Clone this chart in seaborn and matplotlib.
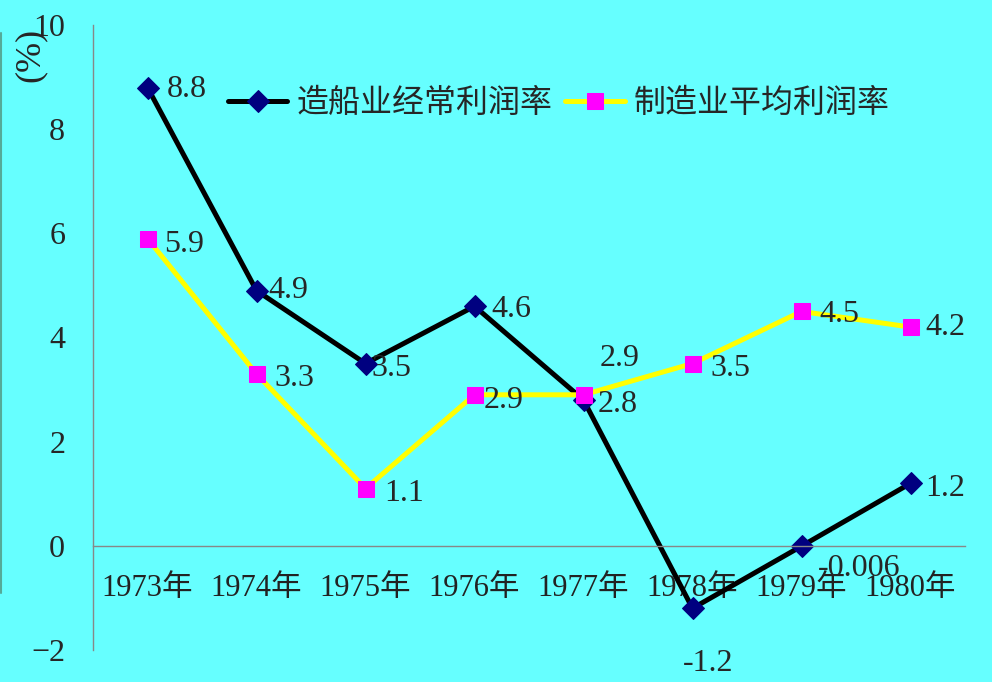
import numpy as np
import pandas as pd
import matplotlib
matplotlib.use("Agg")
import matplotlib.pyplot as plt
import seaborn as sns
from matplotlib.lines import Line2D

years = ["1973年", "1974年", "1975年", "1976年", "1977年", "1978年", "1979年", "1980年"]
ship_name = "造船业经常利润率"
mfg_name = "制造业平均利润率"
ship_rate = [8.8, 4.9, 3.5, 4.6, 2.8, -1.2, -0.006, 1.2]
mfg_rate = [5.9, 3.3, 1.1, 2.9, 2.9, 3.5, 4.5, 4.2]
ship_text = ["8.8", "4.9", "3.5", "4.6", "2.8", "-1.2", "-0.006", "1.2"]
mfg_text = ["5.9", "3.3", "1.1", "2.9", "2.9", "3.5", "4.5", "4.2"]

# label offsets (pixels) from each point
ship_off = [(19, -2), (12, 0), (6, -5), (17, -3), (14, -5), (-10, -55), (16, -22), (15, -5)]
mfg_off = [(17, -6), (18, -5), (19, -5), (9, -6), (16, 36), (18, -5), (18, -3), (15, 0)]

bg = "#66FFFF"
sns.set_style("white")
plt.rcParams["font.family"] = ["Liberation Serif", "Noto Sans CJK SC", "DejaVu Sans"]

df = pd.DataFrame({"pos": np.arange(len(years)), "year": years,
                   "ship": ship_rate, "mfg": mfg_rate})

fig = plt.figure(figsize=(9.92, 6.82), dpi=100, facecolor=bg)
ax = fig.add_axes([93 / 992, 32 / 682, 872 / 992, 625 / 682])
ax.set_facecolor(bg)

sns.lineplot(data=df, x="pos", y="ship", ax=ax, color="black", linewidth=3.6,
             marker="D", markersize=11, markerfacecolor="#000080",
             markeredgecolor="#000080", label=ship_name)
sns.lineplot(data=df, x="pos", y="mfg", ax=ax, color="#FFFF00", linewidth=3.6,
             marker="s", markersize=11, markerfacecolor="#FF00FF",
             markeredgecolor="#FF00FF", label=mfg_name)

for i in range(len(years)):
    ax.annotate(ship_text[i], (df["pos"][i], ship_rate[i]), xytext=ship_off[i],
                textcoords="offset pixels", ha="left", va="center", fontsize=23)
    ax.annotate(mfg_text[i], (df["pos"][i], mfg_rate[i]), xytext=mfg_off[i],
                textcoords="offset pixels", ha="left", va="center", fontsize=23)

ax.set_xlim(-0.5, len(years) - 0.5)
ax.set_ylim(-2, 10)
ax.set_yticks(np.arange(-2, 11, 2))
ax.set_xticks(np.arange(len(years) + 1) - 0.5)
ax.set_xticklabels([])
ax.set_xticks(np.arange(len(years)), minor=True)
ax.set_xticklabels(years, minor=True)
ax.tick_params(axis="x", which="major", direction="in", length=8, color="#888888")
ax.tick_params(axis="x", which="minor", length=0, pad=20, labelsize=22,
               labelcolor="#222222")
ax.tick_params(axis="y", direction="in", length=8, color="#888888", pad=20, labelsize=23)
ax.set_xlabel("")
ax.set_ylabel("")

for s in ["top", "right"]:
    ax.spines[s].set_visible(False)
ax.spines["bottom"].set_position(("data", 0))
for s in ["left", "bottom"]:
    ax.spines[s].set_color("#888888")
    ax.spines[s].set_linewidth(1)

fig.text(30 / 992, 1 - 55 / 682, "(%)", rotation=90, ha="center", va="center", fontsize=26)
fig.add_artist(Line2D([1 / 992, 1 / 992], [1 - 33 / 682, 1 - 593 / 682],
                      color="#55AA99", linewidth=1.5))

ax.legend(loc="center left", bbox_to_anchor=(228 / 992, 1 - 103 / 682),
          bbox_transform=fig.transFigure, ncol=2, frameon=False,
          borderpad=0, borderaxespad=0, handlelength=1.85, handletextpad=0.3,
          columnspacing=0.4, prop={"family": ["Noto Sans CJK SC"], "size": 23})

fig.savefig("out.png", dpi=100, facecolor=bg)
